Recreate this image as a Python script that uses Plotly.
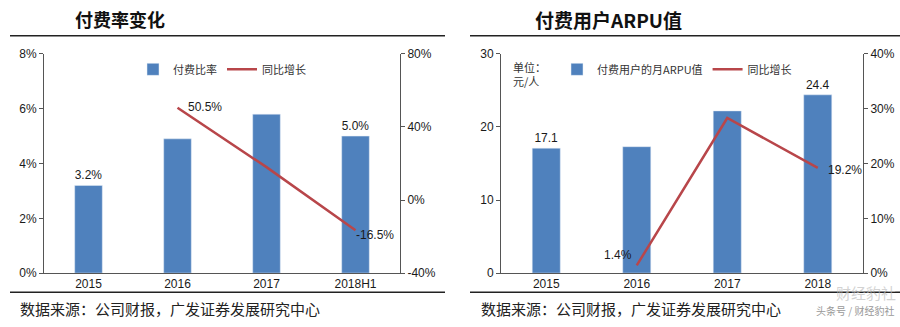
import plotly.graph_objects as go

# ---- data ----
years_left = ["2015", "2016", "2017", "2018H1"]
pay_ratio = [3.2, 4.9, 5.8, 5.0]               # %
pay_ratio_labels = ["3.2%", "", "", "5.0%"]
pay_ratio_yoy = [None, 50.5, 18.0, -16.5]       # %
pay_ratio_yoy_labels = ["", "50.5%", "", "-16.5%"]

years_right = ["2015", "2016", "2017", "2018"]
arpu = [17.1, 17.3, 22.2, 24.4]                # 元/人
arpu_labels = ["17.1", "", "", "24.4"]
arpu_yoy = [None, 1.4, 28.3, 19.2]              # %
arpu_yoy_labels = ["", "1.4%", "", "19.2%"]

left_ticks = [0, 2, 4, 6, 8]
left_ticks2 = [-40, 0, 40, 80]
right_ticks = [0, 10, 20, 30]
right_ticks2 = [0, 10, 20, 30, 40]

BLUE = "#4f81bd"
RED = "#b8464a"
TXT = "#1a1a1a"
W, H = 900, 327
CJK = "Noto Sans CJK SC"
LAT = "Liberation Sans, Arial"

fig = go.Figure()

fig.add_trace(go.Bar(x=years_left, y=pay_ratio, name="付费比率", marker_color=BLUE,
                     width=0.31, text=pay_ratio_labels, textposition="outside",
                     cliponaxis=False, textfont=dict(size=12, color=TXT, family=LAT),
                     xaxis="x", yaxis="y", legend="legend"))
fig.add_trace(go.Scatter(x=years_left, y=pay_ratio_yoy, name="同比增长", mode="lines",
                         line=dict(color=RED, width=2.5),
                         xaxis="x", yaxis="y2", legend="legend"))

fig.add_trace(go.Bar(x=years_right, y=arpu, name="付费用户的月ARPU值", marker_color=BLUE,
                     width=0.31, text=arpu_labels, textposition="outside",
                     cliponaxis=False, textfont=dict(size=12, color=TXT, family=LAT),
                     xaxis="x2", yaxis="y3", legend="legend2"))
fig.add_trace(go.Scatter(x=years_right, y=arpu_yoy, name="同比增长", mode="lines",
                         line=dict(color=RED, width=2.5),
                         xaxis="x2", yaxis="y4", legend="legend2"))

def px(x):
    return x / W

def py(y):
    return 1 - y / H

ydom = [py(278), py(49)]
axcommon = dict(showgrid=False, zeroline=False, showline=True, linecolor="#555",
                linewidth=1, ticks="outside", ticklen=4, tickcolor="#555",
                tickfont=dict(size=12, color=TXT, family=LAT))

def pct(v):
    return [f"{t}%" for t in v]

fig.update_layout(
    width=W, height=H, margin=dict(l=0, r=0, t=0, b=0),
    paper_bgcolor="white", plot_bgcolor="white",
    bargap=0.5,
    xaxis=dict(type="category", domain=[px(44), px(400)], anchor="y", range=[-0.5, 3.5],
               showline=True, linecolor="#555", ticks="", showgrid=False,
               tickfont=dict(size=12, color=TXT, family=LAT)),
    yaxis=dict(domain=ydom, anchor="x", range=[0, 8], tickmode="array",
               tickvals=left_ticks, ticktext=pct(left_ticks), **axcommon),
    yaxis2=dict(domain=ydom, anchor="x", overlaying="y", side="right", range=[-40, 80],
                tickmode="array", tickvals=left_ticks2, ticktext=pct(left_ticks2), **axcommon),
    xaxis2=dict(type="category", domain=[px(501), px(863)], anchor="y3", range=[-0.5, 3.5],
                showline=True, linecolor="#555", ticks="", showgrid=False,
                tickfont=dict(size=12, color=TXT, family=LAT)),
    yaxis3=dict(domain=ydom, anchor="x2", range=[0, 30], tickmode="array",
                tickvals=right_ticks, ticktext=[str(t) for t in right_ticks], **axcommon),
    yaxis4=dict(domain=ydom, anchor="x2", overlaying="y3", side="right", range=[0, 40],
                tickmode="array", tickvals=right_ticks2, ticktext=pct(right_ticks2), **axcommon),
    legend=dict(orientation="h", x=px(133), y=py(50), xanchor="left", yanchor="top",
                font=dict(size=11, color="#333", family=CJK), bgcolor="rgba(0,0,0,0)",
                itemwidth=30, tracegroupgap=0),
    legend2=dict(orientation="h", x=px(557), y=py(50), xanchor="left", yanchor="top",
                 font=dict(size=11, color="#333", family=CJK), bgcolor="rgba(0,0,0,0)",
                 itemwidth=30, tracegroupgap=0),
    showlegend=True,
)

shapes = []
for x0, x1 in [(10, 445), (470, 900)]:
    for yy in (30, 298):
        shapes.append(dict(type="line", xref="paper", yref="paper", x0=px(x0), x1=px(x1),
                           y0=py(yy), y1=py(yy), line=dict(color="#222", width=1.5)))
fig.update_layout(shapes=shapes)

ann = [
    dict(text="<b>付费率变化</b>", x=px(120), y=py(13), font=dict(size=18, family=CJK, color="#111")),
    dict(text="<b>付费用户ARPU值</b>", x=px(608), y=py(13), font=dict(size=19, family=CJK, color="#111")),
    dict(text="数据来源：公司财报，广发证券发展研究中心", x=px(18), y=py(315), xanchor="left",
         font=dict(size=15, family=CJK, color="#222")),
    dict(text="数据来源：公司财报，广发证券发展研究中心", x=px(479), y=py(315), xanchor="left",
         font=dict(size=15, family=CJK, color="#222")),
    dict(text="单位：<br>元/人", x=px(511), y=py(52), xanchor="left", yanchor="top", align="left",
         font=dict(size=11, family=CJK, color="#333")),
    dict(text="头条号 / 财经豹社", x=px(896), y=py(317), xanchor="right",
         font=dict(size=10, family=CJK, color="#999")),
    dict(text="财经豹社", x=px(898), y=py(298), xanchor="right",
         font=dict(size=15, family=CJK, color="rgba(190,190,190,0.7)")),
]
for a in ann:
    a.setdefault("xanchor", "center")
    a.setdefault("yanchor", "middle")
    a.update(xref="paper", yref="paper", showarrow=False)

# data labels on the growth lines, anchored at the data points (category index)
lab_font = dict(size=12, color=TXT, family=LAT)
for i, (yv, t) in enumerate(zip(pay_ratio_yoy, pay_ratio_yoy_labels)):
    if t and yv is not None:
        if yv >= 0:
            ann.append(dict(text=t, x=i, y=yv, xref="x", yref="y2", xanchor="left",
                            yanchor="middle", xshift=8, yshift=1, showarrow=False, font=lab_font))
        else:
            ann.append(dict(text=t, x=i, y=yv, xref="x", yref="y2", xanchor="left",
                            yanchor="middle", xshift=-2, yshift=-5, showarrow=False, font=lab_font))
for i, (yv, t) in enumerate(zip(arpu_yoy, arpu_yoy_labels)):
    if t and yv is not None:
        if yv < 5:
            ann.append(dict(text=t, x=i, y=yv, xref="x2", yref="y4", xanchor="right",
                            yanchor="middle", xshift=-3, yshift=10, showarrow=False, font=lab_font))
        else:
            ann.append(dict(text=t, x=i, y=yv, xref="x2", yref="y4", xanchor="left",
                            yanchor="middle", xshift=8, yshift=-2, showarrow=False, font=lab_font))
fig.update_layout(annotations=ann)

fig.write_html("out.html")
